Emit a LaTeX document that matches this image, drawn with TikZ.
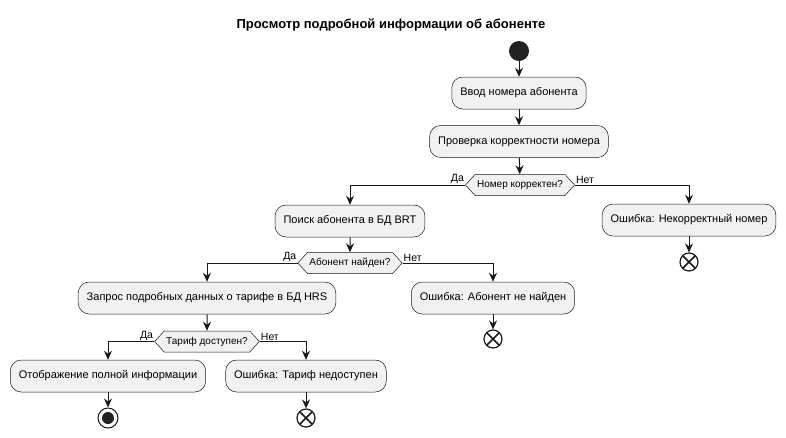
\documentclass[tikz,border=0pt]{standalone}
\usepackage{fontspec}
\setmainfont{Liberation Sans}
\usetikzlibrary{arrows.meta,shapes.symbols,calc}
\definecolor{boxfill}{HTML}{F1F1F1}
\definecolor{linec}{HTML}{181818}
\definecolor{darkdot}{HTML}{222222}
\tikzset{
  actbox/.style={draw=linec, line width=0.5pt, fill=boxfill, rounded corners=11pt,
    minimum height=32pt, inner xsep=8.5pt, font=\fontsize{11}{13}\selectfont},
  decide/.style={draw=linec, line width=0.5pt, fill=boxfill, shape=signal,
    signal to=west and east, signal pointer angle=95, inner xsep=2pt, inner ysep=3pt,
    minimum height=21pt, font=\fontsize{10}{12}\selectfont},
  flow/.style={draw=linec, line width=1pt, -{Stealth[length=9pt,width=8pt,inset=3pt]}},
  lbl/.style={font=\fontsize{10.5}{12}\selectfont, inner sep=1pt},
  startdot/.style={circle, fill=darkdot, minimum size=20pt, inner sep=0pt},
  stopdot/.style={circle, draw=linec, line width=1pt, fill=white, minimum size=20pt, inner sep=0pt,
    path picture={\fill[darkdot] (path picture bounding box.center) circle (6pt);}},
  killdot/.style={circle, draw=linec, line width=1.2pt, fill=white, minimum size=18pt, inner sep=0pt,
    path picture={\draw[linec, line width=1.6pt]
      ($(path picture bounding box.center)+(-6,-6)$) -- ($(path picture bounding box.center)+(6,6)$)
      ($(path picture bounding box.center)+(-6,6)$) -- ($(path picture bounding box.center)+(6,-6)$);}},
}
\begin{document}
\begin{tikzpicture}[x=1pt,y=-1pt]
\useasboundingbox (0,0) rectangle (786,437);
\node[font=\bfseries\fontsize{13}{15}\selectfont] (title) at (391,25) {Просмотр подробной информации об абоненте};
\node[startdot] (start) at (519,51) {};
\node[actbox] (b1) at (519,93) {Ввод номера абонента};
\node[actbox] (b2) at (519,141.5) {Проверка корректности номера};
\node[decide] (d1) at (520,185) {Номер корректен?};
\node[actbox] (b3) at (350,221) {Поиск абонента в БД BRT};
\node[actbox] (e1) at (689,220) {Ошибка: Некорректный номер};
\node[killdot] (k1) at (689,262) {};
\node[decide] (d2) at (350,263) {Абонент найден?};
\node[actbox] (b4) at (207,298) {Запрос подробных данных о тарифе в БД HRS};
\node[actbox] (e2) at (493,298) {Ошибка: Абонент не найден};
\node[killdot] (k2) at (493,339) {};
\node[decide] (d3) at (207,341.5) {Тариф доступен?};
\node[actbox] (b5) at (108,376) {Отображение полной информации};
\node[actbox] (e3) at (306,376) {Ошибка: Тариф недоступен};
\node[stopdot] (stop) at (108,418) {};
\node[killdot] (k3) at (306,418) {};

\draw[flow] (start) -- (b1);
\draw[flow] (b1) -- (b2);
\draw[flow] (b2) -- (d1);
\draw[flow] (d1.west) -| (b3.north);
\draw[flow] (d1.east) -| (e1.north);
\draw[flow] (e1) -- (k1);
\draw[flow] (b3) -- (d2);
\draw[flow] (d2.west) -| (b4.north);
\draw[flow] (d2.east) -| (e2.north);
\draw[flow] (e2) -- (k2);
\draw[flow] (b4) -- (d3);
\draw[flow] (d3.west) -| (b5.north);
\draw[flow] (d3.east) -| (e3.north);
\draw[flow] (b5) -- (stop);
\draw[flow] (e3) -- (k3);

\node[lbl, anchor=south east] (y1) at (d1.west) {Да};
\node[lbl, anchor=south west] (n1) at (d1.east) {Нет};
\node[lbl, anchor=south east] (y2) at (d2.west) {Да};
\node[lbl, anchor=south west] (n2) at (d2.east) {Нет};
\node[lbl, anchor=south east] (y3) at (d3.west) {Да};
\node[lbl, anchor=south west] (n3) at (d3.east) {Нет};
\end{tikzpicture}
\end{document}
